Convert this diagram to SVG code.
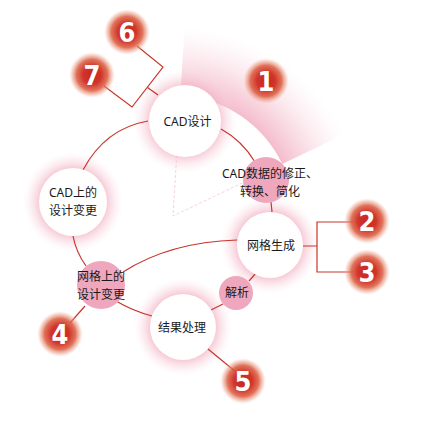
<svg xmlns="http://www.w3.org/2000/svg" width="427" height="423" viewBox="0 0 427 423">
<defs>
<radialGradient id="fan" gradientUnits="userSpaceOnUse" cx="173" cy="216" r="190">
<stop offset="0.63" stop-color="#f0a3ba" stop-opacity="0.75"/>
<stop offset="0.75" stop-color="#f2b0c3" stop-opacity="0.5"/>
<stop offset="0.9" stop-color="#f6c8d5" stop-opacity="0.2"/>
<stop offset="1" stop-color="#fae0e8" stop-opacity="0"/>
</radialGradient>
<radialGradient id="halo">
<stop offset="0.6" stop-color="#f2a9be" stop-opacity="0.85"/>
<stop offset="0.8" stop-color="#f5c3d1" stop-opacity="0.4"/>
<stop offset="1" stop-color="#fbe3ea" stop-opacity="0"/>
</radialGradient>
<radialGradient id="badge">
<stop offset="0" stop-color="#c9241f"/>
<stop offset="0.4" stop-color="#d0352a"/>
<stop offset="0.68" stop-color="#db5a3e" stop-opacity="0.85"/>
<stop offset="0.88" stop-color="#e99a80" stop-opacity="0.4"/>
<stop offset="1" stop-color="#f6d0c4" stop-opacity="0"/>
</radialGradient>
</defs>
<style>
.halo{fill:url(#halo)}
.node{fill:#ffffff}
.pk{fill:#efa7bd}
.lbl{font-family:"Noto Sans","Noto Sans CJK SC",sans-serif;font-size:12px;fill:#1a1a1a;text-anchor:middle}
.ln{fill:none;stroke:#c8352a;stroke-width:1.2}
.badge{fill:url(#badge)}
.num{font-family:"DejaVu Sans Condensed","DejaVu Sans",sans-serif;font-stretch:condensed;font-weight:bold;font-size:27px;fill:#ffffff;text-anchor:middle}
.dash{fill:none;stroke:#f4c6d3;stroke-width:0.8;stroke-dasharray:3 2}
</style>
<rect width="427" height="423" fill="#ffffff"/>
<g id="fan-bg">
<path d="M 184.6 26.4 A 190 190 0 0 1 344.5 134.2 L 282.2 163.9 A 121 121 0 0 0 180.4 95.2 Z" fill="url(#fan)"/>
<polyline class="dash" points="180.4,95.2 173,216 282.2,163.9"/>
</g>
<g id="halos">
<circle class="halo" cx="185" cy="121" r="52"/>
<circle class="halo" cx="73" cy="202" r="50"/>
<circle class="halo" cx="270" cy="245" r="49"/>
<circle class="halo" cx="183" cy="327" r="49"/>
</g>
<g id="connectors">
<path class="ln" d="M 148 121 Q 105 128.5 83 170"/>
<path class="ln" d="M 73 236 Q 76 252 86 266"/>
<path class="ln" d="M 116 301 Q 133 311 152 316"/>
<path class="ln" d="M 211 310 L 223 304"/>
<path class="ln" d="M 249 281 L 256 273"/>
<path class="ln" d="M 272 212 L 271 202"/>
<path class="ln" d="M 221 129 Q 242 140.5 255 162"/>
<path class="ln" d="M 123 272 Q 170 242 237 240"/>
<polyline class="ln" points="137,46 163,67 132,107 104,86"/>
<path class="ln" d="M 147.5 87.5 L 158 95"/>
<path class="ln" d="M 303 246 H 317 M 353 222 H 317 V 272 H 353"/>
<path class="ln" d="M 85 306 L 70 323"/>
<path class="ln" d="M 208 349 L 236 372"/>
</g>
<g id="n-cad">
<circle class="node" cx="185" cy="121" r="36"/>
<text class="lbl" x="187.5" y="125.5">CAD设计</text>
</g>
<g id="n-cad-change">
<circle class="node" cx="73" cy="202" r="34"/>
<text class="lbl" x="73" y="197">CAD上的</text>
<text class="lbl" x="73" y="215">设计变更</text>
</g>
<g id="n-mesh">
<circle class="node" cx="270" cy="245" r="33"/>
<text class="lbl" x="271" y="250">网格生成</text>
</g>
<g id="n-result">
<circle class="node" cx="183" cy="327" r="33"/>
<text class="lbl" x="182" y="332">结果处理</text>
</g>
<g id="n-cad-data">
<circle class="pk" cx="266" cy="180" r="23"/>
<text class="lbl" x="270" y="178">CAD数据的修正、</text>
<text class="lbl" x="270" y="196">转换、简化</text>
</g>
<g id="n-mesh-change">
<circle class="pk" cx="101" cy="285" r="24"/>
<text class="lbl" x="101" y="281">网格上的</text>
<text class="lbl" x="101" y="299">设计变更</text>
</g>
<g id="n-analysis">
<circle class="pk" cx="236" cy="293" r="17"/>
<text class="lbl" x="237" y="297">解析</text>
</g>
<g id="b1"><circle class="badge" cx="266" cy="81" r="23"/><text class="num" x="266" y="90.5">1</text></g>
<g id="b2"><circle class="badge" cx="367" cy="221" r="23"/><text class="num" x="367" y="230.5">2</text></g>
<g id="b3"><circle class="badge" cx="367" cy="272" r="23"/><text class="num" x="367" y="281.5">3</text></g>
<g id="b4"><circle class="badge" cx="60" cy="334" r="23"/><text class="num" x="60" y="343.5">4</text></g>
<g id="b5"><circle class="badge" cx="243" cy="381" r="23"/><text class="num" x="243" y="390.5">5</text></g>
<g id="b6"><circle class="badge" cx="127" cy="32" r="23"/><text class="num" x="127" y="41.5">6</text></g>
<g id="b7"><circle class="badge" cx="92" cy="75" r="23"/><text class="num" x="92" y="84.5">7</text></g>
</svg>
